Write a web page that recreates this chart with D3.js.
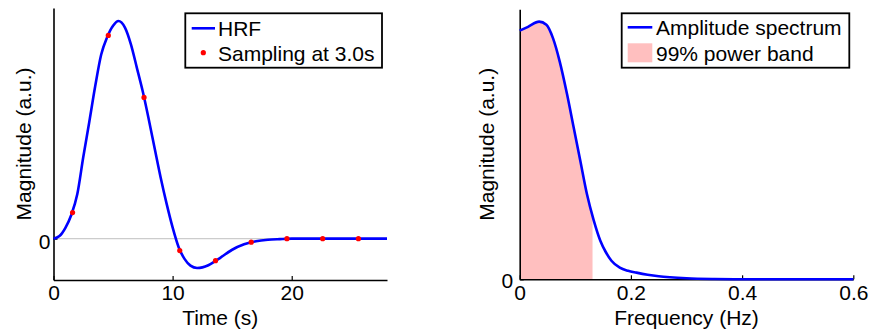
<!DOCTYPE html>
<html>
<head>
<meta charset="utf-8">
<script src="https://cdn.jsdelivr.net/npm/d3@7"></script>
<style>
  html, body { margin: 0; padding: 0; background: #fff; }
  svg { display: block; font-family: "Liberation Sans", Arial, Helvetica, sans-serif; }
</style>
</head>
<body>
<svg id="chart" width="869" height="330"></svg>
<script>
// Haemodynamic response function (time in s, arbitrary units, peak = 1)
const hrfTime  = [0, 0.5, 1.0, 1.5, 2.0, 2.5, 3.0, 3.5, 4.0, 4.5, 5.0, 5.45, 6.0, 6.5, 7.0, 7.5, 8.0, 8.5, 9.0, 9.5, 10.0, 10.5, 11.0, 11.5, 12.05, 12.5, 13.0, 13.5, 14.0, 15.0, 16.0, 17.0, 18.0, 19.0, 20.0, 22.0, 24.0, 26.0, 28.0];
const hrfValue = [0, 0.012, 0.05, 0.11, 0.205, 0.375, 0.535, 0.70, 0.845, 0.925, 0.978, 1.0, 0.97, 0.893, 0.785, 0.675, 0.548, 0.413, 0.28, 0.16, 0.052, -0.038, -0.093, -0.124, -0.135, -0.132, -0.122, -0.106, -0.088, -0.051, -0.026, -0.012, -0.005, -0.002, 0, 0, 0, 0, 0];

// HRF sampled every 3.0 s
const sampleTime  = [1.6, 4.6, 7.6, 10.6, 13.6, 16.6, 19.6, 22.6, 25.6];
const sampleValue = [0.12, 0.934, 0.649, -0.055, -0.101, -0.016, 0, 0, 0];

// Amplitude spectrum of the HRF (Hz, arbitrary units, peak = 1)
const freq      = [0, 0.015, 0.035, 0.048, 0.060, 0.072, 0.085, 0.097, 0.109, 0.121, 0.133, 0.145, 0.155, 0.165, 0.180, 0.195, 0.21, 0.23, 0.25, 0.27, 0.30, 0.35, 0.40, 0.50, 0.60];
const amplitude = [0.965, 0.98, 1.0, 0.988, 0.935, 0.845, 0.72, 0.59, 0.46, 0.33, 0.23, 0.15, 0.105, 0.072, 0.045, 0.033, 0.026, 0.018, 0.012, 0.008, 0.004, 0.001, 0, 0, 0];

// Upper edge of the band holding 99% of the power
const bandEdge = 0.131;

const timeTicks = [0, 10, 20];
const freqTicks = [0, 0.2, 0.4, 0.6];
const magTicks  = [0];
const hrfLegend = ["HRF", "Sampling at 3.0s"];
const specLegend = ["Amplitude spectrum", "99% power band"];

const BLUE = "#0000ff", RED = "#ff0000", PINK = "#ffbfbf";
const FONT = 21;

const svg = d3.select("#chart");

function styleAxis(g) {
  g.select(".domain").attr("stroke", "#000").attr("stroke-width", 1.6);
  g.selectAll(".tick line").attr("stroke", "#000").attr("stroke-width", 1.2);
  g.selectAll(".tick text").attr("fill", "#000").style("font-size", FONT + "px");
}

// ---------- Left panel: HRF in time ----------
const xT = d3.scaleLinear().domain([0, 28]).range([53.5, 387]);
const yT = d3.scaleLinear().domain([-0.19, 1.06]).range([280, 8]);

const left = svg.append("g");

left.append("line")
  .attr("x1", xT(0)).attr("x2", xT(28))
  .attr("y1", yT(0)).attr("y2", yT(0))
  .attr("stroke", "#cccccc").attr("stroke-width", 1.2);

left.append("g")
  .attr("transform", `translate(0,${yT.range()[0]})`)
  .call(d3.axisBottom(xT).tickValues(timeTicks).tickFormat(d3.format("d"))
        .tickSizeInner(-4).tickSizeOuter(0).tickPadding(5.5))
  .call(styleAxis);

left.append("g")
  .attr("transform", `translate(${xT.range()[0]},0)`)
  .call(d3.axisLeft(yT).tickValues(magTicks).tickFormat(d3.format("d"))
        .tickSizeInner(-4).tickSizeOuter(0).tickPadding(3))
  .call(styleAxis)
  .call(g => g.selectAll(".tick text").attr("dy", "0.45em"));

const hrfPts = hrfTime.map((t, i) => [t, hrfValue[i]]);
left.append("path")
  .datum(hrfPts)
  .attr("fill", "none").attr("stroke", BLUE).attr("stroke-width", 2.6)
  .attr("stroke-linejoin", "round")
  .attr("d", d3.line().x(d => xT(d[0])).y(d => yT(d[1])).curve(d3.curveMonotoneX));

left.selectAll("circle.sample")
  .data(sampleTime.map((t, i) => [t, sampleValue[i]]))
  .join("circle").attr("class", "sample")
  .attr("cx", d => xT(d[0])).attr("cy", d => yT(d[1]))
  .attr("r", 2.6).attr("fill", RED);

left.append("text")
  .attr("x", (xT.range()[0] + xT.range()[1]) / 2).attr("y", 324.5)
  .attr("text-anchor", "middle").style("font-size", FONT + "px")
  .text("Time (s)");

left.append("text")
  .attr("transform", `translate(31,${(yT.range()[0] + yT.range()[1]) / 2}) rotate(-90)`)
  .attr("text-anchor", "middle").style("font-size", FONT + "px")
  .text("Magnitude (a.u.)");

// legend
const lgL = left.append("g");
lgL.append("rect").attr("x", 185.3).attr("y", 13.3).attr("width", 196.7).attr("height", 54.4)
  .attr("fill", "#fff").attr("stroke", "#000").attr("stroke-width", 1.8);
lgL.append("line").attr("x1", 191.7).attr("x2", 215).attr("y1", 28.3).attr("y2", 28.3)
  .attr("stroke", BLUE).attr("stroke-width", 2.6);
lgL.append("circle").attr("cx", 203.3).attr("cy", 52.7).attr("r", 2.6).attr("fill", RED);
lgL.selectAll("text").data(hrfLegend).join("text")
  .attr("x", 218).attr("y", (d, i) => 35.5 + i * 25.3)
  .style("font-size", FONT + "px").text(d => d);

// ---------- Right panel: amplitude spectrum ----------
const xF = d3.scaleLinear().domain([0, 0.6]).range([519.7, 853.3]);
const yF = d3.scaleLinear().domain([0, 1.048]).range([279.3, 9.3]);

const right = svg.append("g");
const specPts = freq.map((f, i) => [f, amplitude[i]]);

svg.append("defs").append("clipPath").attr("id", "band")
  .append("rect")
  .attr("x", xF(0)).attr("y", 0)
  .attr("width", xF(bandEdge) - xF(0)).attr("height", 330);

right.append("path")
  .datum(specPts)
  .attr("clip-path", "url(#band)")
  .attr("fill", PINK)
  .attr("d", d3.area().x(d => xF(d[0])).y0(yF(0)).y1(d => yF(d[1])).curve(d3.curveMonotoneX));

right.append("g")
  .attr("transform", `translate(0,${yF.range()[0]})`)
  .call(d3.axisBottom(xF).tickValues(freqTicks).tickFormat(d => d === 0 ? "0" : d3.format(".1f")(d))
        .tickSizeInner(-4).tickSizeOuter(0).tickPadding(5.5))
  .call(styleAxis);

// the y-axis zero sits just left of the x-axis zero, clear of it
right.append("g")
  .attr("transform", `translate(${xF.range()[0]},0)`)
  .call(d3.axisLeft(yF).tickValues(magTicks).tickFormat(d3.format("d"))
        .tickSizeInner(-4).tickSizeOuter(0).tickPadding(6.5))
  .call(styleAxis)
  .call(g => g.selectAll(".tick text").attr("dy", "0.4em"));

right.append("path")
  .datum(specPts)
  .attr("fill", "none").attr("stroke", BLUE).attr("stroke-width", 2.6)
  .attr("stroke-linejoin", "round")
  .attr("d", d3.line().x(d => xF(d[0])).y(d => yF(d[1])).curve(d3.curveMonotoneX));

right.append("text")
  .attr("x", (xF.range()[0] + xF.range()[1]) / 2).attr("y", 324.5)
  .attr("text-anchor", "middle").style("font-size", FONT + "px")
  .text("Frequency (Hz)");

right.append("text")
  .attr("transform", `translate(494,${(yF.range()[0] + yF.range()[1]) / 2}) rotate(-90)`)
  .attr("text-anchor", "middle").style("font-size", FONT + "px")
  .text("Magnitude (a.u.)");

// legend
const lgR = right.append("g");
lgR.append("rect").attr("x", 621.7).attr("y", 13.3).attr("width", 227.6).attr("height", 54.4)
  .attr("fill", "#fff").attr("stroke", "#000").attr("stroke-width", 1.8);
lgR.append("line").attr("x1", 627.7).attr("x2", 652.3).attr("y1", 27.3).attr("y2", 27.3)
  .attr("stroke", BLUE).attr("stroke-width", 2.6);
lgR.append("rect").attr("x", 627.7).attr("y", 43.3).attr("width", 24.6).attr("height", 19)
  .attr("fill", PINK);
lgR.selectAll("text").data(specLegend).join("text")
  .attr("x", 656).attr("y", (d, i) => 35 + i * 25.5)
  .style("font-size", FONT + "px").text(d => d);
</script>
</body>
</html>
